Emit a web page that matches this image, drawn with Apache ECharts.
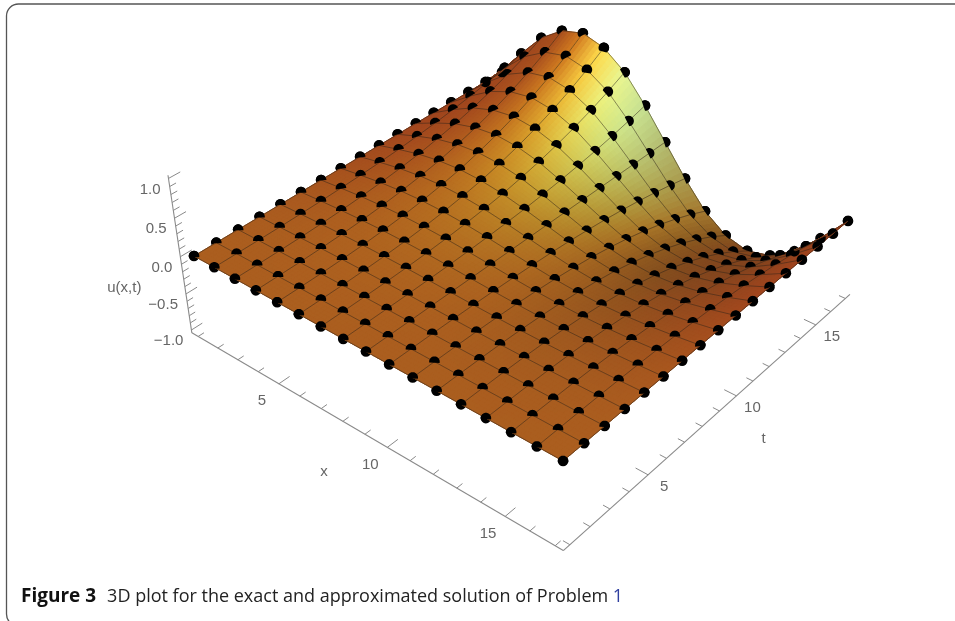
<!DOCTYPE html>
<html><head><meta charset="utf-8">
<style>html,body{margin:0;padding:0;background:#fff}#c{width:955px;height:621px}</style>
<script src="https://cdn.jsdelivr.net/npm/echarts@6/dist/echarts.min.js"></script>
</head><body><div id="c"></div>
<script>
// Axis samples
const xValues = [1,2,3,4,5,6,7,8,9,10,11,12,13,14,15,16,17];
const tValues = [1,2,3,4,5,6,7,8,9,10,11,12,13,14,15,16,17];
const xTickLabels = [5,10,15];
const tTickLabels = [5,10,15];
const uTickLabels = [-1,-0.5,0,0.5,1];
// u(x,t), one list per t
const uT01 = [0,0,0,0,0,0,0,0,0,0,0,0,0,0,0,0,0];
const uT02 = [0,0.001,0.001,0.002,0.002,0.002,0.001,0.001,0,-0.001,-0.001,-0.002,-0.002,-0.002,-0.001,-0.001,0];
const uT03 = [0,0.002,0.004,0.005,0.005,0.005,0.004,0.002,0,-0.002,-0.004,-0.005,-0.005,-0.005,-0.004,-0.002,0];
const uT04 = [0,0.005,0.009,0.012,0.013,0.012,0.009,0.005,0,-0.005,-0.009,-0.012,-0.013,-0.012,-0.009,-0.005,0];
const uT05 = [0,0.01,0.018,0.023,0.025,0.023,0.018,0.01,0,-0.01,-0.018,-0.023,-0.025,-0.023,-0.018,-0.01,0];
const uT06 = [0,0.017,0.031,0.04,0.044,0.04,0.031,0.017,0,-0.017,-0.031,-0.04,-0.044,-0.04,-0.031,-0.017,0];
const uT07 = [0,0.027,0.05,0.064,0.07,0.064,0.05,0.027,0,-0.027,-0.05,-0.064,-0.07,-0.064,-0.05,-0.027,0];
const uT08 = [0,0.04,0.074,0.096,0.104,0.096,0.074,0.04,0,-0.04,-0.074,-0.096,-0.104,-0.096,-0.074,-0.04,0];
const uT09 = [0,0.056,0.105,0.136,0.148,0.136,0.105,0.056,0,-0.056,-0.105,-0.136,-0.148,-0.136,-0.105,-0.056,0];
const uT10 = [0,0.076,0.142,0.184,0.2,0.184,0.142,0.076,0,-0.076,-0.142,-0.184,-0.2,-0.184,-0.142,-0.076,0];
const uT11 = [0,0.103,0.192,0.248,0.27,0.248,0.192,0.103,0,-0.103,-0.192,-0.248,-0.27,-0.248,-0.192,-0.103,0];
const uT12 = [0,0.133,0.249,0.322,0.35,0.322,0.249,0.133,0,-0.133,-0.249,-0.322,-0.35,-0.322,-0.249,-0.133,0];
const uT13 = [0,0.17,0.317,0.411,0.447,0.411,0.317,0.17,0,-0.17,-0.317,-0.411,-0.447,-0.411,-0.317,-0.17,0];
const uT14 = [0,0.212,0.396,0.513,0.558,0.513,0.396,0.212,0,-0.212,-0.396,-0.513,-0.558,-0.513,-0.396,-0.212,0];
const uT15 = [0,0.261,0.488,0.632,0.687,0.632,0.488,0.261,0,-0.261,-0.488,-0.632,-0.687,-0.632,-0.488,-0.261,0];
const uT16 = [0,0.317,0.591,0.766,0.833,0.766,0.591,0.317,0,-0.317,-0.591,-0.766,-0.833,-0.766,-0.591,-0.317,0];
const uT17 = [0,0.38,0.71,0.92,1,0.92,0.71,0.38,0,-0.38,-0.71,-0.92,-1,-0.92,-0.71,-0.38,0];
const uRows = [uT01,uT02,uT03,uT04,uT05,uT06,uT07,uT08,uT09,uT10,uT11,uT12,uT13,uT14,uT15,uT16,uT17];

const N = xValues.length;
const PAD = 0.32, UPAD = 1.04;
const AX0 = 1 - PAD, AX1 = 17 + PAD;

// perspective camera of the 3D box
function depth(x, t, u) {
  return 1 - 0.12708 * (x - 1) / 16 + 0.17115 * (t - 1) / 16 - 0.033 * u;
}
function project(x, t, u) {
  const a = (x - 1) / 16, b = (t - 1) / 16;
  const W = depth(x, t, u);
  return [(194 + 297.5 * a + 393.9 * b - 17.4 * u) / W,
          (256 + 146.4 * a - 171.7 * b - 84.1 * u) / W];
}
function slopes(i, j) {
  const i0 = Math.max(0, i - 1), i1 = Math.min(N - 1, i + 1);
  const j0 = Math.max(0, j - 1), j1 = Math.min(N - 1, j + 1);
  const du_a = (uRows[j][i1] - uRows[j][i0]) / ((i1 - i0) / 16);
  const du_b = (uRows[j1][i] - uRows[j0][i]) / ((j1 - j0) / 16);
  return [du_a * 0.2, du_b * 0.2];
}
function shade(i, j) {
  const s = slopes(i, j);
  const l = Math.hypot(s[0], s[1], 1);
  const n = [-s[0] / l, -s[1] / l, 1 / l];
  const d = (L, p) => Math.pow(Math.max(0, n[0] * L[0] + n[1] * L[1] + n[2] * L[2]), p);
  return [
    Math.min(255, 160 + 110 * d([0.42, -0.55, 0.72], 7) - Math.min(30, 130 * Math.max(0, n[1] - 0.6 * Math.max(0, n[0])))),
    Math.min(245, 68 + 185 * d([0.62, -0.35, 0.70], 5.5) + 15 * Math.max(0, -n[1])),
    30 + 125 * d([0.7, -0.25, 0.67], 12)
  ];
}
const colors = uRows.map((r, j) => r.map((v, i) => shade(i, j)));

const SUB = 6;
function bil(A, B, C, D, p, q) { return (1 - p) * (1 - q) * A + p * (1 - q) * B + (1 - p) * q * C + p * q * D; }

const cellData = [];
for (let j = N - 2; j >= 0; j--) for (let i = 0; i < N - 1; i++) cellData.push([xValues[i], tValues[j]]);
const pointData = [];
tValues.forEach((t, j) => xValues.forEach((x, i) => pointData.push([x, t, uRows[j][i]])));
const lineData = [];
xValues.forEach((x, i) => lineData.push([i, 0]));
tValues.forEach((t, j) => lineData.push([j, 1]));

function renderCell(params, api) {
  const i = api.value(0) - 1, j = api.value(1) - 1;
  const U = [uRows[j][i], uRows[j][i + 1], uRows[j + 1][i], uRows[j + 1][i + 1]];
  const C = [colors[j][i], colors[j][i + 1], colors[j + 1][i], colors[j + 1][i + 1]];
  const P = (p, q) => api.coord(project(i + 1 + p, j + 1 + q, bil(U[0], U[1], U[2], U[3], p, q)));
  const mean = [0, 1, 2].map(k => Math.round((C[0][k] + C[1][k] + C[2][k] + C[3][k]) / 4));
  const base = 'rgb(' + mean.join(',') + ')';
  const children = [{ type: 'polygon', silent: true,
    shape: { points: [P(0, 0), P(1, 0), P(1, 1), P(0, 1)] },
    style: { fill: base, stroke: base, lineWidth: 0.7 } }];
  for (let qi = SUB - 1; qi >= 0; qi--) for (let pi = 0; pi < SUB; pi++) {
    const p0 = pi / SUB, p1 = (pi + 1) / SUB, q0 = qi / SUB, q1 = (qi + 1) / SUB;
    const pc = (p0 + p1) / 2, qc = (q0 + q1) / 2;
    const rgb = [0, 1, 2].map(k => Math.round(bil(C[0][k], C[1][k], C[2][k], C[3][k], pc, qc)));
    const col = 'rgb(' + rgb.join(',') + ')';
    children.push({ type: 'polygon', silent: true,
      shape: { points: [P(p0, q0), P(p1, q0), P(p1, q1), P(p0, q1)] },
      style: { fill: col, stroke: col, lineWidth: 0.7 } });
  }
  return { type: 'group', children };
}
function renderDot(params, api) {
  const c = api.coord(project(api.value(0), api.value(1), api.value(2)));
  return { type: 'circle', silent: true, shape: { cx: c[0], cy: c[1], r: 5.3 }, style: { fill: '#000' } };
}
// the part of each round point that stays in front of the surface
const BIAS = 0.0009;
function renderDome(params, api) {
  const x = api.value(0), t = api.value(1);
  const i = x - 1, j = t - 1;
  const c0 = project(x, t, uRows[j][i]);
  const c = api.coord(c0);
  const i0 = Math.max(0, i - 1), i1 = Math.min(N - 1, i + 1);
  const j0 = Math.max(0, j - 1), j1 = Math.min(N - 1, j + 1);
  const pa0 = project(i0 + 1, t, uRows[j][i0]), pa1 = project(i1 + 1, t, uRows[j][i1]);
  const pb0 = project(x, j0 + 1, uRows[j0][i]), pb1 = project(x, j1 + 1, uRows[j1][i]);
  const Ta = [pa1[0] - pa0[0], pa1[1] - pa0[1]], Tb = [pb1[0] - pb0[0], pb1[1] - pb0[1]];
  const da = depth(i1 + 1, t, uRows[j][i1]) - depth(i0 + 1, t, uRows[j][i0]);
  const db = depth(x, j1 + 1, uRows[j1][i]) - depth(x, j0 + 1, uRows[j0][i]);
  const det = Ta[0] * Tb[1] - Ta[1] * Tb[0];
  const gx = (da * Tb[1] - Ta[1] * db) / det;
  const gy = (Ta[0] * db - da * Tb[0]) / det;
  const R = 5.3, pts = [];
  for (let k = 0; k < 48; k++) {
    const th = k / 48 * 2 * Math.PI;
    const dx = R * Math.cos(th), dy = R * Math.sin(th);
    if (gx * dx + gy * dy + BIAS > 0) pts.push([c[0] + dx, c[1] + dy]);
  }
  return { type: 'polygon', silent: true, shape: { points: pts }, style: { fill: '#000' } };
}
function renderGridLine(params, api) {
  const idx = api.value(0), kind = api.value(1);
  const pts = [];
  for (let k = 0; k < N; k++) {
    pts.push(kind === 0
      ? api.coord(project(idx + 1, k + 1, uRows[k][idx]))
      : api.coord(project(k + 1, idx + 1, uRows[idx][k])));
  }
  return { type: 'polyline', silent: true, shape: { points: pts },
    style: { fill: null, stroke: 'rgba(45,35,25,0.62)', lineWidth: 0.8 } };
}
// axis lines and ticks
const axisStroke = '#8a8a8a';
function seg(api, a, b, w) {
  const p = api.coord(a), q = api.coord(b);
  return { type: 'line', silent: true, shape: { x1: p[0], y1: p[1], x2: q[0], y2: q[1] },
    style: { stroke: axisStroke, lineWidth: w || 1 } };
}
const axisData = [[0]];
function renderAxes(params, api) {
  const ch = [];
  ch.push(seg(api, project(AX0, AX0, -UPAD), project(AX0, AX0, UPAD), 1.1));
  ch.push(seg(api, project(AX0, AX0, -UPAD), project(AX1, AX0, -UPAD), 1.1));
  ch.push(seg(api, project(AX1, AX0, -UPAD), project(AX1, AX1, -UPAD), 1.1));
  xValues.forEach(x => {
    const L = x % 5 === 0 ? 0.5 : 0.27;
    ch.push(seg(api, project(x, AX0, -UPAD), project(x, AX0 + L, -UPAD)));
  });
  tValues.forEach(t => {
    const L = t % 5 === 0 ? 0.5 : 0.27;
    ch.push(seg(api, project(AX1, t, -UPAD), project(AX1 - L, t, -UPAD)));
  });
  for (let k = -10; k <= 10; k++) {
    const L = k % 5 === 0 ? 0.5 : 0.27;
    ch.push(seg(api, project(AX0, AX0, k / 10), project(AX0, AX0 + L, k / 10)));
  }
  return { type: 'group', children: ch };
}
const labelFont = '15px "Liberation Sans", Arial, sans-serif';
function txt(api, base, dx, dy, s, align) {
  const p = api.coord(base);
  return { type: 'text', silent: true, style: { x: p[0] + dx, y: p[1] + dy, text: s,
    font: labelFont, fill: '#666', align: align || 'center', verticalAlign: 'middle' } };
}
function fmtU(v) { return (v < 0 ? '\u2212' : '') + Math.abs(v).toFixed(1); }
function renderLabels(params, api) {
  const ch = [];
  xTickLabels.forEach(v => ch.push(txt(api, project(v, AX0, -UPAD), -17, 17, String(v))));
  tTickLabels.forEach(v => ch.push(txt(api, project(AX1, v, -UPAD), 16, 12, String(v))));
  uTickLabels.forEach(v => ch.push(txt(api, project(AX0, AX0, v), -8, 11, fmtU(v), 'right')));
  ch.push(txt(api, project(9, AX0, -UPAD), -41, 38, 'x'));
  ch.push(txt(api, project(AX1, 9, -UPAD), 44, 28, 't'));
  ch.push(txt(api, project(AX0, AX0, 0), -56, 31, 'u(x,t)'));
  return { type: 'group', children: ch };
}
const custom = (data, renderItem, z) => ({
  type: 'custom', coordinateSystem: 'cartesian2d', data, renderItem, z,
  clip: false, animation: false, silent: true, progressive: 0,
  encode: { x: 0, y: 1 }
});

const chart = echarts.init(document.getElementById('c'), null, { width: 955, height: 621 });
chart.setOption({
  animation: false,
  backgroundColor: '#fff',
  grid: { left: 0, right: 0, top: 0, bottom: 0 },
  xAxis: { type: 'value', min: 0, max: 955, show: false },
  yAxis: { type: 'value', min: 0, max: 621, inverse: true, show: false },
  title: {
    left: 21, top: 587, padding: 0,
    text: '{b|Figure 3}{g| }{r|3D plot for the exact and approximated solution of Problem }{l|1}',
    textStyle: { rich: {
      b: { fontFamily: 'Open Sans', fontWeight: 'bold', fontSize: 19, color: '#111' },
      g: { width: 11, fontSize: 18 },
      r: { fontFamily: 'Open Sans', fontWeight: 'normal', fontSize: 18, color: '#222' },
      l: { fontFamily: 'Open Sans', fontWeight: 'normal', fontSize: 18, color: '#2f3f9f' }
    } }
  },
  graphic: [{ type: 'rect', silent: true, shape: { x: 6.5, y: 4, width: 1000, height: 622, r: 12 },
    style: { fill: 'none', stroke: '#555', lineWidth: 1.3 }, z: 0 }],
  series: [
    custom(axisData, renderAxes, 2),
    custom(axisData, renderLabels, 2),
    custom(pointData, renderDot, 3),
    custom(cellData, renderCell, 4),
    custom(lineData, renderGridLine, 5),
    custom(pointData, renderDome, 6)
  ]
});
</script></body></html>
